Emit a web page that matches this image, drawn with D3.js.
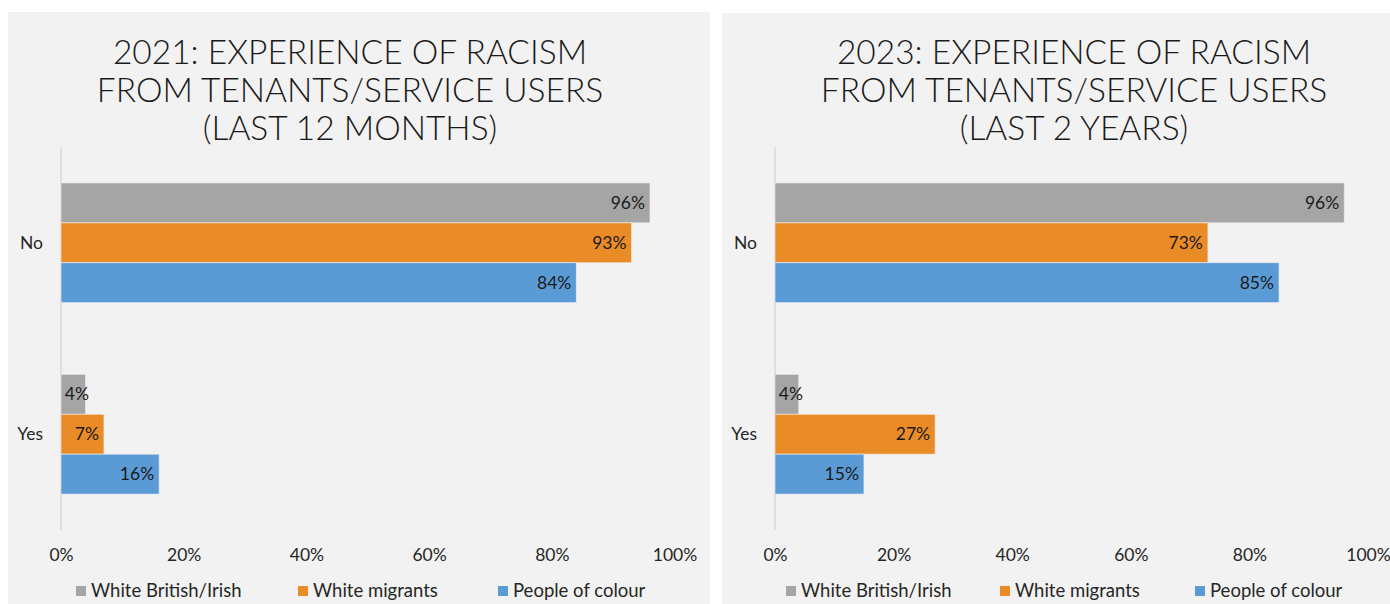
<!DOCTYPE html>
<html>
<head>
<meta charset="utf-8">
<script src="https://cdn.jsdelivr.net/npm/d3@7"></script>
<style>
  html, body { margin: 0; padding: 0; background: #ffffff; }
  svg { display: block; }
</style>
</head>
<body>
<svg id="chart" width="1390" height="604"></svg>
<script>
// Survey answers and respondent groups
const categories = ["No", "Yes"];
const groups = ["White British/Irish", "White migrants", "People of colour"];
const groupColors = ["#A5A5A5", "#E98B27", "#5B9BD5"];
const ticks = [0, 0.2, 0.4, 0.6, 0.8, 1.0];

// Share of staff in each group, per answer (No, Yes)
const values2021 = {
  "White British/Irish": [0.96, 0.04],
  "White migrants": [0.93, 0.07],
  "People of colour": [0.84, 0.16]
};
const values2023 = {
  "White British/Irish": [0.96, 0.04],
  "White migrants": [0.73, 0.27],
  "People of colour": [0.85, 0.15]
};

const titles2021 = ["2021: EXPERIENCE OF RACISM", "FROM TENANTS/SERVICE USERS", "(LAST 12 MONTHS)"];
const titles2023 = ["2023: EXPERIENCE OF RACISM", "FROM TENANTS/SERVICE USERS", "(LAST 2 YEARS)"];

const svg = d3.select("#chart");
const labelFont = "Lato, 'Open Sans', sans-serif";
const titleFont = "Lato, 'Open Sans', sans-serif";

function drawPanel(cfg) {
  const g = svg.append("g");

  // panel background
  g.append("rect")
    .attr("x", cfg.left).attr("y", cfg.top)
    .attr("width", cfg.right - cfg.left).attr("height", 604 - cfg.top)
    .attr("fill", "#F2F2F2");

  // title
  const title = g.append("text")
    .attr("text-anchor", "middle")
    .attr("font-family", titleFont)
    .attr("font-weight", 300)
    .attr("font-size", 33.5)
    .attr("fill", "#1a1a1a");
  cfg.title.forEach((line, i) => {
    title.append("tspan")
      .attr("x", cfg.titleX)
      .attr("y", 64 + i * 38)
      .text(line);
  });

  const x = d3.scaleLinear().domain([0, 1]).range([cfg.x0, cfg.x1]);
  const y = d3.scaleBand().domain(categories).range([147, 530])
    .paddingInner(0.375).paddingOuter(0.1875);
  const ySub = d3.scaleBand().domain(groups).range([0, y.bandwidth()]);

  // vertical category axis line
  g.append("line")
    .attr("x1", x(0)).attr("x2", x(0))
    .attr("y1", 147).attr("y2", 530)
    .attr("stroke", "#D9D9D9").attr("stroke-width", 1.5);

  // category labels
  g.selectAll("text.cat").data(categories).enter().append("text")
    .attr("class", "cat")
    .attr("x", x(0) - 18)
    .attr("y", d => y(d) + y.bandwidth() / 2)
    .attr("dy", "0.35em")
    .attr("text-anchor", "end")
    .attr("font-family", labelFont)
    .attr("font-size", 17.5)
    .attr("fill", "#262626")
    .text(d => d);

  // bars and value labels
  groups.forEach((grp, gi) => {
    const vals = cfg.values[grp];
    categories.forEach((cat, ci) => {
      const v = vals[ci];
      const by = y(cat) + ySub(grp);
      g.append("rect")
        .attr("x", x(0))
        .attr("y", by)
        .attr("width", x(v) - x(0))
        .attr("height", ySub.bandwidth())
        .attr("fill", groupColors[gi])
        .attr("stroke", "#F2F2F2")
        .attr("stroke-opacity", 0.6)
        .attr("stroke-width", 1);
      const lx = Math.max(x(v) - 5, x(0) + 28);
      g.append("text")
        .attr("x", lx)
        .attr("y", by + ySub.bandwidth() / 2)
        .attr("dy", "0.35em")
        .attr("text-anchor", "end")
        .attr("font-family", labelFont)
        .attr("font-size", 17.5)
        .attr("fill", "#1a1a1a")
        .text(Math.round(v * 100) + "%");
    });
  });

  // value axis tick labels
  const axis = d3.axisBottom(x).tickValues(ticks).tickFormat(d3.format(".0%")).tickSize(0).tickPadding(0);
  const ax = g.append("g").attr("transform", "translate(0,555)").call(axis);
  ax.select(".domain").remove();
  ax.selectAll("text")
    .attr("dy", "0.35em")
    .attr("font-family", labelFont)
    .attr("font-size", 17.5)
    .attr("fill", "#262626");

  // legend
  const leg = g.append("g").attr("transform", "translate(0,591)");
  groups.forEach((grp, gi) => {
    const lx = cfg.legendX[gi];
    leg.append("rect")
      .attr("x", lx).attr("y", -5)
      .attr("width", 10).attr("height", 10)
      .attr("fill", groupColors[gi]);
    leg.append("text")
      .attr("x", lx + 15).attr("y", 0)
      .attr("dy", "0.35em")
      .attr("font-family", labelFont)
      .attr("font-size", 18.5)
      .attr("fill", "#262626")
      .text(grp);
  });
}

drawPanel({
  left: 8, right: 710, top: 12,
  titleX: 350, title: titles2021,
  x0: 61, x1: 674.5,
  values: values2021,
  legendX: [76, 298, 498]
});

drawPanel({
  left: 722, right: 1390, top: 13,
  titleX: 1074, title: titles2023,
  x0: 775, x1: 1368,
  values: values2023,
  legendX: [786, 1000, 1195]
});
</script>
</body>
</html>
